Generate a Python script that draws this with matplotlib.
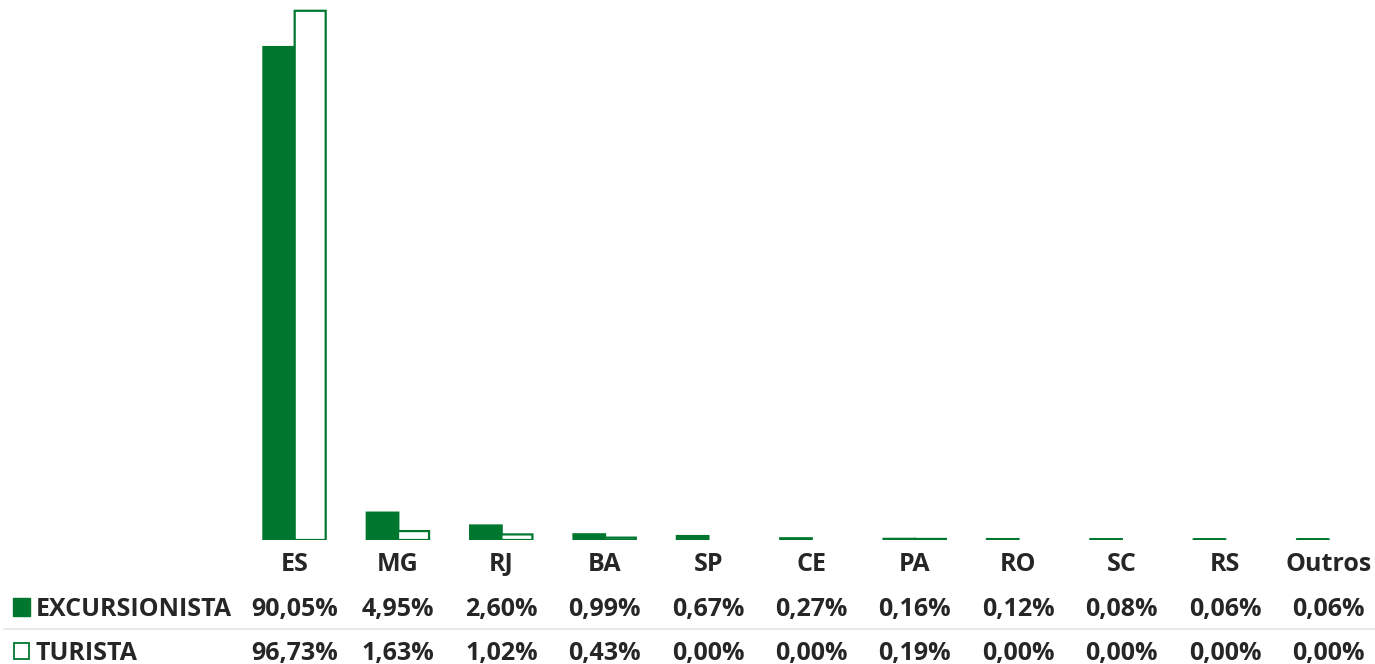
import numpy as np
import matplotlib
matplotlib.use("Agg")
import matplotlib.pyplot as plt
import matplotlib.transforms as mtransforms
from matplotlib.patches import Rectangle
from matplotlib.lines import Line2D

# dados
categorias = ["ES", "MG", "RJ", "BA", "SP", "CE", "PA", "RO", "SC", "RS", "Outros"]
excursionista = [90.05, 4.95, 2.60, 0.99, 0.67, 0.27, 0.16, 0.12, 0.08, 0.06, 0.06]
turista = [96.73, 1.63, 1.02, 0.43, 0.00, 0.00, 0.19, 0.00, 0.00, 0.00, 0.00]
series = ["EXCURSIONISTA", "TURISTA"]

verde = "#00772F"
texto = "#262626"

plt.rcParams["font.family"] = ["Open Sans", "DejaVu Sans"]

W, H = 1375, 664
fig = plt.figure(figsize=(W / 100, H / 100), dpi=100)
ax = fig.add_axes([243 / W, (H - 540) / H, 1137 / W, 540 / H])

x = np.arange(len(categorias))
bw = 0.3
ax.bar(x - bw / 2, excursionista, bw, color=verde, edgecolor=verde,
       linewidth=[2.0 if v > 0 else 0 for v in excursionista], snap=False)
ax.bar(x + bw / 2, turista, bw, color="white", edgecolor=verde,
       linewidth=[1.6 if v > 0 else 0 for v in turista], snap=False)

ax.set_xlim(-0.5, len(categorias) - 0.5)
ax.set_ylim(0, 98.7)
ax.axis("off")

# tabela de dados abaixo do gráfico
tr = mtransforms.blended_transform_factory(ax.transData, fig.transFigure)
fs = 18
peso = "bold"
y_cat = 1 - 571 / H
y_r1 = 1 - 616 / H
y_r2 = 1 - 660 / H

def fmt(v):
    return f"{v:.2f}%".replace(".", ",")

for i, c in enumerate(categorias):
    ax.text(i, y_cat, c, transform=tr, ha="center", va="baseline",
            fontsize=fs, fontweight=peso, color=texto)
    ax.text(i, y_r1, fmt(excursionista[i]), transform=tr, ha="center",
            va="baseline", fontsize=fs, fontweight=peso, color=texto)
    ax.text(i, y_r2, fmt(turista[i]), transform=tr, ha="center",
            va="baseline", fontsize=fs, fontweight=peso, color=texto)

# legendas das linhas
fig.patches.append(Rectangle((13 / W, 1 - 616 / H), 17 / W, 18 / H,
                             transform=fig.transFigure, facecolor=verde,
                             edgecolor=verde, lw=1))
fig.patches.append(Rectangle((14 / W, 1 - 659 / H), 15 / W, 16 / H,
                             transform=fig.transFigure, facecolor="white",
                             edgecolor=verde, lw=1.3))
fig.text(36 / W, y_r1, series[0], ha="left", va="baseline", fontsize=fs,
         fontweight=peso, color=texto)
fig.text(36 / W, y_r2, series[1], ha="left", va="baseline", fontsize=fs,
         fontweight=peso, color=texto)

# linha separadora
fig.lines.append(Line2D([4 / W, 1], [1 - 629 / H] * 2, transform=fig.transFigure,
                        color="#e6e6e6", lw=1.2))

fig.savefig("out.png", dpi=100, facecolor="white")
